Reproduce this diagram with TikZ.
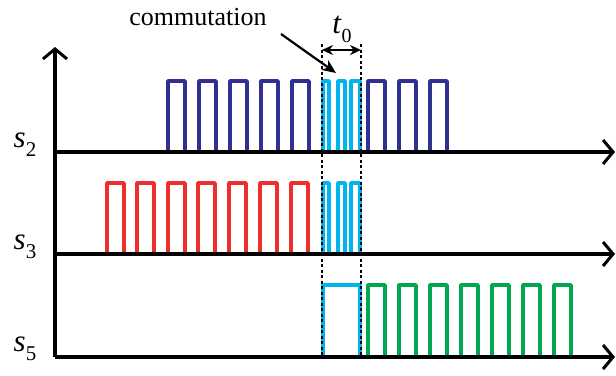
\documentclass[tikz,border=0pt]{standalone}
\usepackage{fontspec}
\setmainfont{Liberation Serif}
\usetikzlibrary{arrows.meta}
\definecolor{pblue}{HTML}{2E3192}
\definecolor{pred}{HTML}{EE2D2D}
\definecolor{pcyan}{HTML}{00B4EE}
\definecolor{pgreen}{HTML}{00A651}
\tikzset{
  axis/.style={line width=3.4pt, black, -{Straight Barb[length=10pt,width=24pt,line width=3pt]}},
  pulse/.style={line width=3.5pt, line join=round, line cap=round},
  guide/.style={line width=1.3pt, black, dash pattern=on 3pt off 2.5pt},
  lbl/.style={font=\fontsize{31}{33}\selectfont, inner sep=0pt},
}
\newcommand{\pul}[5]{\draw[pulse,#1] (#2,#3) -- (#2,#4) -- (#5,#4) -- (#5,#3);}
\begin{document}
\begin{tikzpicture}[x=1pt,y=-1pt]
\useasboundingbox (0,0) rectangle (616,375);
% axes
\coordinate (o) at (55,357);
\coordinate (top) at (55,47);
\coordinate (a2) at (55,152);
\coordinate (a3) at (55,254);
\coordinate (e2) at (615,152);
\coordinate (e3) at (615,254);
\coordinate (e5) at (615,357);
% pulses s2
\foreach \x in {168,199,230,261,292,368,399,430} {\pul{pblue}{\x}{152}{81}{\x+17}}
\pul{pcyan}{323}{152}{81}{329}
\pul{pcyan}{338}{152}{81}{345}
\pul{pcyan}{351}{152}{81}{360}
% pulses s3
\foreach \x in {107,137,168,198,229,260,291} {\pul{pred}{\x}{254}{183}{\x+17}}
\pul{pcyan}{323}{254}{183}{329}
\pul{pcyan}{338}{254}{183}{345}
\pul{pcyan}{351}{254}{183}{360}
% pulses s5
\pul{pcyan}{323}{357}{285}{360}
\foreach \x in {368,399,430,461,492,523,554} {\pul{pgreen}{\x}{357}{285}{\x+17}}
% axes drawn on top
\draw[axis] (o) -- (top);
\draw[axis] (a2) -- (e2);
\draw[axis] (a3) -- (e3);
\draw[axis] (o) -- (e5);
% dashed guides
\coordinate (d1t) at (322,44);
\coordinate (d1b) at (322,357);
\coordinate (d2t) at (361,44);
\coordinate (d2b) at (361,357);
\draw[guide] (d1t) -- (d1b);
\draw[guide] (d2t) -- (d2b);
% t0 arrow
\coordinate (t1) at (322,50);
\coordinate (t2) at (361,50);
\draw[line width=2.2pt, {Stealth[length=11pt,width=10pt]}-{Stealth[length=11pt,width=10pt]}] (t1) -- (t2);
\node[lbl, anchor=base] (t0) at (342,33) {\textit{t}\raisebox{-0.3em}{\fontsize{20}{22}\selectfont 0}};
% commutation
\node[inner sep=0pt, anchor=base, font=\fontsize{26}{28}\selectfont] (com) at (198,25) {commutation};
\coordinate (cs) at (281,34);
\coordinate (ce) at (336,73);
\draw[line width=2.2pt, -{Stealth[length=14pt,width=12pt]}] (cs) -- (ce);
% labels
\node[lbl, anchor=base] (l2) at (25,147) {\textit{s}\raisebox{-0.3em}{\fontsize{21}{23}\selectfont 2}};
\node[lbl, anchor=base] (l3) at (25,249) {\textit{s}\raisebox{-0.3em}{\fontsize{21}{23}\selectfont 3}};
\node[lbl, anchor=base] (l5) at (25,351) {\textit{s}\raisebox{-0.3em}{\fontsize{21}{23}\selectfont 5}};
\end{tikzpicture}
\end{document}
